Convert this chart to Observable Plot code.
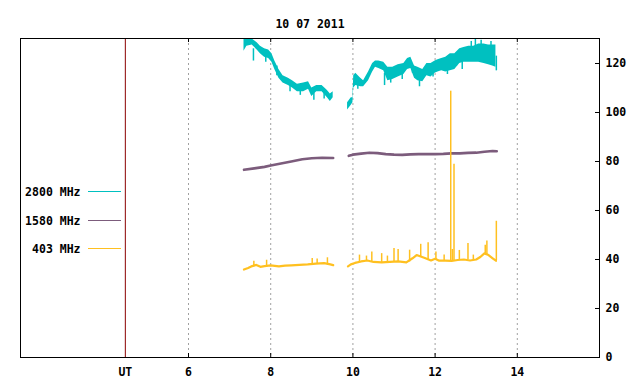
<!DOCTYPE html>
<html>
<head>
<meta charset="utf-8">
<script src="https://cdn.jsdelivr.net/npm/d3@7"></script>
<script src="https://cdn.jsdelivr.net/npm/@observablehq/plot@0.6"></script>
<style>
  html, body { margin: 0; padding: 0; background: #fff; }
  #wrap { position: relative; width: 640px; height: 384px; }
  #wrap svg { display: block; }
  #legend { position: absolute; left: 0; top: 0; }
</style>
</head>
<body>
<div id="wrap"></div>
<script>
// ---- data ----
const title = "10 07 2011";
const seriesNames = ["2800 MHz", "1580 MHz", "403 MHz"];
const seriesColors = ["#00c0c0", "#7c5c7c", "#ffc020"];

const xDomain = [1.912, 16.0];
const yDomain = [0, 130.2];
const utHour = 4.463;
const hourTicks = [6, 8, 10, 12, 14];
const yTicks = [0, 20, 40, 60, 80, 100, 120];

// 2800 MHz: noisy band (low / high envelope)
const t2800 = [7.35, 7.42, 7.55, 7.67, 7.75, 7.85, 7.95, 8.03, 8.10, 8.20,
  8.30, 8.43, 8.53, 8.65, 8.80, 8.92, 9.00, 9.12, 9.25, 9.38,
  9.45, 9.52, null, 9.87, 9.96, 10.00, 10.02, 10.07, 10.19, 10.26,
  10.38, 10.48, 10.55, 10.63, 10.75, 10.85, 10.97, 11.10, 11.24, 11.33,
  11.41, 11.50, 11.58, 11.70, 11.80, 11.90, 12.00, 12.07, 12.16, 12.26,
  12.37, 12.48, 12.60, 12.70, 12.82, 12.94, 13.06, 13.19, 13.30, 13.40, 13.48];
const lo2800 = [125, 127, 127.5, 125.5, 124, 122.5, 122, 120.5, 117.5, 114,
  112, 111, 110, 108.5, 108.5, 109.5, 106.5, 108.5, 108.5, 106,
  104.5, 106, null, 101, 103, 104, 110, 111, 110.5, 110.5,
  113, 116.5, 118.5, 118, 117, 113, 113.5, 114.5, 115.5, 117.5,
  118, 114, 113, 112.5, 115, 114.5, 116, 116.5, 117, 116.5,
  117, 117.5, 120, 120.5, 120.5, 120.5, 120.5, 120, 119.5, 119, 118.5];
const hi2800 = [130, 130, 130, 128.5, 127, 126, 125.5, 124, 121, 117.5,
  115, 114, 113, 111.5, 112, 112.5, 110, 111, 111, 109,
  107.5, 108.5, null, 104, 106, 106, 115, 116, 114, 113,
  116.5, 120, 121, 121, 120.5, 118.5, 118.5, 119.5, 120, 122,
  122.5, 119, 118.5, 117.5, 120, 120, 121, 121.5, 122, 122.5,
  124, 124, 126, 126.5, 127, 127, 128, 128, 127.5, 127.5, 127.5];
const spikeT2800 = [7.58, 7.88, 8.15, 8.47, 8.72, 9.05, 9.3, 10.12, 10.77, 10.92,
  11.2, 11.45, 11.62, 11.95, 12.3, 12.52, 12.66, 12.88, 12.98, 13.12, 13.36, 13.49];
const spikeFrom2800 = [126, 124, 119, 112, 110, 108, 109, 112, 116, 116,
  117, 119, 115, 118, 120, 122, 122, 123, 126, 124, 124, 123];
const spikeTo2800 = [121, 120.5, 115, 108.5, 107, 105, 105.5, 109.5, 111, 112,
  113.5, 116, 110.5, 114.5, 115.5, 119, 117.5, 129, 129.8, 129.5, 129, 117];

// 1580 MHz
const t1580 = [7.35, 7.6, 7.85, 8.0, 8.25, 8.5, 8.77, 9.0, 9.25, 9.52,
  null, 9.9, 10.0, 10.2, 10.4, 10.6, 10.8, 11.0, 11.2, 11.4,
  11.6, 11.8, 12.0, 12.2, 12.4, 12.6, 12.8, 13.0, 13.2, 13.4, 13.5];
const v1580 = [76.6, 77.2, 77.8, 78.4, 79.2, 80.0, 80.9, 81.3, 81.5, 81.4,
  null, 82.3, 82.8, 83.2, 83.6, 83.4, 83.0, 82.8, 82.7, 82.9,
  83.0, 83.0, 83.0, 83.1, 83.3, 83.3, 83.5, 83.6, 84.0, 84.3, 84.2];

// 403 MHz
const t403 = [7.35, 7.45, 7.55, 7.65, 7.75, 7.85, 8.0, 8.2, 8.35, 8.5,
  8.7, 8.9, 9.1, 9.3, 9.45, 9.52, null, 9.88, 9.95, 10.05,
  10.2, 10.35, 10.5, 10.7, 10.9, 11.1, 11.3, 11.45, 11.55, 11.65,
  11.75, 11.9, 12.0, 12.1, 12.25, 12.4, 12.55, 12.7, 12.85, 13.0,
  13.1, 13.2, 13.3, 13.4, 13.48];
const v403 = [35.9, 36.5, 37.3, 37.8, 37.0, 37.3, 37.6, 37.2, 37.5, 37.6,
  37.8, 38.0, 38.3, 38.5, 38.0, 37.7, null, 37.2, 38.0, 38.6,
  39.2, 39.6, 39.0, 38.8, 39.0, 39.2, 38.8, 40.5, 41.8, 41.2,
  40.6, 39.6, 40.3, 39.5, 39.5, 39.4, 39.8, 40.0, 39.6, 40.0,
  41.0, 42.5, 41.8, 40.5, 39.5];
const spikeT403 = [7.59, 7.9, 9.01, 9.13, 9.38, 10.16, 10.33, 10.46, 10.7, 10.84,
  11.0, 11.1, 11.38, 11.65, 11.83, 12.02, 12.22, 12.38, 12.42, 12.46,
  12.59, 12.8, 12.93, 13.22, 13.26, 13.49];
const spikeBase403 = [37.3, 37.3, 38.1, 38.3, 38.2, 39.0, 39.5, 39.2, 38.8, 38.9,
  39.0, 39.2, 39.0, 41.0, 40.0, 40.0, 39.5, 39.4, 39.4, 39.5,
  39.8, 39.9, 39.7, 42.0, 41.9, 39.5];
const spikeTop403 = [39.3, 39.7, 40.4, 40.2, 40.7, 41.8, 41.4, 43.1, 42.4, 41.4,
  44.5, 44.1, 43.8, 46.2, 46.8, 43.1, 41.8, 108.7, 44.1, 78.9,
  43.7, 46.5, 41.8, 45.8, 47.5, 55.6];

// ---- tables built from arrays ----
const band2800 = t2800.map((t, i) => ({t, lo: lo2800[i], hi: hi2800[i]}));
const sp2800 = spikeT2800.map((t, i) => ({t, a: spikeFrom2800[i], b: spikeTo2800[i]}));
const line1580 = t1580.map((t, i) => ({t, v: v1580[i]}));
const line403 = t403.map((t, i) => ({t, v: v403[i]}));
const sp403 = spikeT403.map((t, i) => ({t, a: spikeBase403[i], b: spikeTop403[i]}));

const font = "'DejaVu Sans Mono', 'Liberation Mono', monospace";

const chart = Plot.plot({
  width: 640,
  height: 384,
  marginLeft: 20,
  marginRight: 41,
  marginTop: 38,
  marginBottom: 27,
  style: {fontFamily: font, fontSize: "11.5px", fontWeight: "bold", background: "#fff", color: "#000"},
  x: {domain: xDomain},
  y: {domain: yDomain},
  marks: [
    Plot.ruleX(hourTicks, {stroke: "#a0a0a0", strokeDasharray: "2,3"}),
    Plot.ruleX([utHour], {stroke: "#8b0000"}),
    Plot.areaY(band2800, {x: "t", y1: "lo", y2: "hi", fill: seriesColors[0], curve: "linear", clip: true}),
    Plot.ruleX(sp2800, {x: "t", y1: "a", y2: "b", stroke: seriesColors[0], strokeWidth: 1.5, clip: true}),
    Plot.lineY(line1580, {x: "t", y: "v", stroke: seriesColors[1], strokeWidth: 2.6}),
    Plot.lineY(line403, {x: "t", y: "v", stroke: seriesColors[2], strokeWidth: 2.2}),
    Plot.ruleX(sp403, {x: "t", y1: "a", y2: "b", stroke: seriesColors[2], strokeWidth: 1.5}),
    Plot.frame({stroke: "#000"}),
    Plot.ruleX(hourTicks, {stroke: "#000", insetTop: 315}),
    Plot.ruleX(hourTicks, {stroke: "#000", insetBottom: 315}),
    Plot.ruleY(yTicks.slice(1), {stroke: "#000", insetLeft: 575}),
    Plot.axisX([utHour, ...hourTicks], {tickSize: 0, tickPadding: 10, label: null,
      tickFormat: d => d === utHour ? "UT" : String(d)}),
    Plot.axisY(yTicks, {anchor: "right", tickSize: 0, tickPadding: 6, label: null}),
    Plot.text([title], {frameAnchor: "top", dy: -18.5, fontWeight: "bold"})
  ]
});

const wrap = document.getElementById("wrap");
wrap.appendChild(chart);

// legend overlay (layout only)
const leg = d3.select(wrap).append("svg")
  .attr("id", "legend").attr("width", 640).attr("height", 384)
  .style("font-family", font).style("font-size", "11.5px").style("font-weight", "bold");
const legY0 = 191, legStep = 28.6;
seriesNames.forEach((name, i) => {
  const y = Math.round(legY0 + i * legStep) + 0.5;
  leg.append("text").attr("x", 80.5).attr("y", y).attr("dy", "0.35em")
    .attr("text-anchor", "end").attr("fill", "#000").text(name);
  leg.append("line").attr("x1", 88).attr("x2", 121).attr("y1", y).attr("y2", y)
    .attr("stroke", seriesColors[i]).attr("stroke-width", 1);
});
</script>
</body>
</html>
